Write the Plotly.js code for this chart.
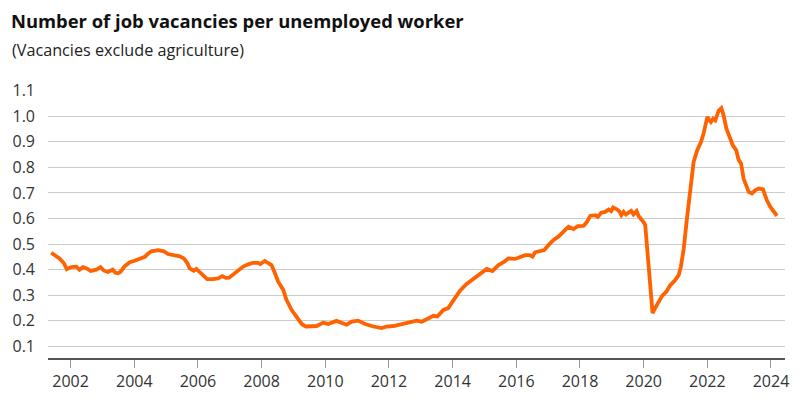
<!DOCTYPE html>
<html>
<head>
<meta charset="utf-8">
<script src="https://cdn.plot.ly/plotly-3.0.1.min.js"></script>
<style>
html,body{margin:0;padding:0;background:#fff;}
#chart{width:800px;height:412px;}
</style>
</head>
<body>
<div id="chart"></div>
<script>
// Decimal year of each observation
const years = [
2001.39,2001.55,2001.65,2001.79,2001.88,2002.02,2002.18,2002.28,2002.39,2002.52,
2002.63,2002.81,2002.94,2003.05,2003.17,2003.32,2003.41,2003.49,2003.57,2003.70,
2003.86,2004.01,2004.17,2004.33,2004.43,2004.54,2004.75,2004.93,2005.06,2005.22,
2005.43,2005.56,2005.67,2005.74,2005.87,2005.95,2006.06,2006.16,2006.29,2006.47,
2006.63,2006.77,2006.87,2006.98,2007.10,2007.26,2007.42,2007.58,2007.73,2007.89,
2007.96,2008.10,2008.20,2008.31,2008.42,2008.52,2008.68,2008.78,2008.94,2009.10,
2009.26,2009.39,2009.57,2009.73,2009.93,2010.09,2010.35,2010.51,2010.67,2010.83,
2011.03,2011.25,2011.51,2011.77,2011.93,2012.14,2012.40,2012.61,2012.87,2013.03,
2013.24,2013.40,2013.52,2013.71,2013.86,2014.02,2014.23,2014.44,2014.65,2014.86,
2015.07,2015.25,2015.44,2015.60,2015.75,2015.96,2016.12,2016.28,2016.43,2016.51,
2016.59,2016.75,2016.88,2017.01,2017.17,2017.32,2017.48,2017.64,2017.80,2017.93,
2018.11,2018.22,2018.32,2018.48,2018.56,2018.67,2018.79,2018.90,2018.98,2019.04,
2019.16,2019.23,2019.30,2019.37,2019.44,2019.53,2019.61,2019.68,2019.78,2019.84,
2019.92,2019.99,2020.05,2020.12,2020.21,2020.28,2020.36,2020.47,2020.58,2020.71,
2020.84,2020.97,2021.10,2021.17,2021.26,2021.36,2021.47,2021.57,2021.68,2021.80,
2021.88,2022.00,2022.11,2022.18,2022.25,2022.36,2022.44,2022.51,2022.60,2022.70,
2022.80,2022.91,2022.98,2023.06,2023.14,2023.30,2023.40,2023.51,2023.62,2023.75,
2023.87,2023.98,2024.08,2024.19
];
// Job vacancies per unemployed worker
const ratio = [
0.466,0.453,0.444,0.425,0.402,0.410,0.412,0.400,0.410,0.404,
0.395,0.400,0.410,0.396,0.391,0.400,0.388,0.386,0.392,0.414,
0.429,0.435,0.444,0.450,0.462,0.472,0.476,0.472,0.461,0.456,
0.452,0.444,0.425,0.405,0.396,0.403,0.390,0.375,0.363,0.363,
0.366,0.375,0.368,0.369,0.382,0.396,0.412,0.421,0.427,0.427,
0.422,0.434,0.427,0.418,0.386,0.353,0.321,0.282,0.243,0.215,
0.188,0.178,0.178,0.180,0.193,0.188,0.200,0.191,0.185,0.197,
0.201,0.188,0.178,0.172,0.178,0.180,0.188,0.195,0.201,0.197,
0.210,0.220,0.217,0.243,0.250,0.282,0.318,0.344,0.363,0.382,
0.403,0.395,0.418,0.429,0.444,0.442,0.451,0.457,0.457,0.451,
0.468,0.473,0.477,0.496,0.516,0.529,0.551,0.568,0.559,0.570,
0.571,0.587,0.610,0.613,0.606,0.623,0.626,0.635,0.629,0.643,
0.636,0.629,0.613,0.626,0.616,0.624,0.630,0.616,0.629,0.610,
0.600,0.587,0.574,0.457,0.327,0.230,0.250,0.275,0.298,0.314,
0.340,0.356,0.379,0.412,0.483,0.600,0.717,0.821,0.866,0.899,
0.931,0.996,0.977,0.990,0.983,1.022,1.031,1.003,0.951,0.918,
0.886,0.866,0.830,0.815,0.756,0.704,0.698,0.711,0.717,0.714,
0.671,0.645,0.626,0.610
];
const tickYears = [2002,2004,2006,2008,2010,2012,2014,2016,2018,2020,2022,2024];
const tickLabels = ['2002','2004','2006','2008','2010','2012','2014','2016','2018','2020','2022','2024'];
const yTicks = [0.1,0.2,0.3,0.4,0.5,0.6,0.7,0.8,0.9,1.0,1.1];
const yTickLabels = ['0.1','0.2','0.3','0.4','0.5','0.6','0.7','0.8','0.9','1.0','1.1'];

const FONT = '"Open Sans", "Noto Sans", sans-serif';

const trace = {
  x: years, y: ratio, type: 'scatter', mode: 'lines',
  line: {color: '#FF6200', width: 3.8, shape: 'linear'},
  hoverinfo: 'skip'
};

const layout = {
  width: 800, height: 412,
  margin: {l: 48, r: 15, t: 89.5, b: 53.7, pad: 0},
  paper_bgcolor: '#ffffff', plot_bgcolor: '#ffffff',
  showlegend: false,
  font: {family: FONT, color: '#333333', size: 16},
  title: {
    text: '<b>Number of job vacancies per unemployed worker</b>',
    font: {family: FONT, size: 18.4, color: '#111111'},
    x: 11/800, xanchor: 'left', xref: 'container',
    y: 1 - 21.7/412, yanchor: 'middle', yref: 'container'
  },
  annotations: [{
    text: '(Vacancies exclude agriculture)',
    xref: 'paper', yref: 'paper',
    x: (9.5 - 48) / 737, xanchor: 'left',
    y: (358.3 - 49) / 268.8, yanchor: 'middle',
    showarrow: false,
    font: {family: FONT, size: 16.2, color: '#222222'}
  }],
  xaxis: {
    type: 'linear',
    range: [2001.29, 2024.44],
    tickmode: 'array', tickvals: tickYears, ticktext: tickLabels,
    showgrid: false, zeroline: false,
    showline: true, linecolor: '#555555', linewidth: 1.5,
    ticks: 'outside', ticklen: 8, tickcolor: '#999999', tickwidth: 1,
    tickfont: {family: FONT, size: 16, color: '#333333'},
    fixedrange: true
  },
  yaxis: {
    range: [0.055, 1.102],
    tickmode: 'array', tickvals: yTicks, ticktext: yTickLabels,
    showgrid: true, gridcolor: '#cccccc', gridwidth: 1,
    zeroline: false, showline: false,
    ticks: '', ticklabelstandoff: 12,
    tickfont: {family: FONT, size: 16, color: '#333333'},
    fixedrange: true
  }
};

Plotly.newPlot('chart', [trace], layout, {displayModeBar: false, staticPlot: true});
</script>
</body>
</html>
